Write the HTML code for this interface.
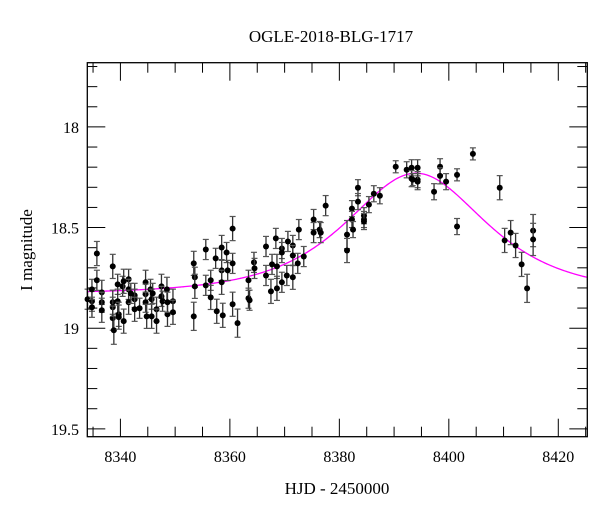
<!DOCTYPE html>
<html><head><meta charset="utf-8"><style>
html,body{margin:0;padding:0;background:#fff;}
svg text{font-family:"Liberation Serif",serif;fill:#000;}
</style></head><body>
<svg id="chart" width="600" height="512" viewBox="0 0 600 512" xmlns="http://www.w3.org/2000/svg">
<text x="331" y="42" font-size="17" text-anchor="middle">OGLE-2018-BLG-1717</text>
<text x="337" y="494" font-size="17" text-anchor="middle">HJD - 2450000</text>
<text x="0" y="0" font-size="17" text-anchor="middle" transform="translate(32,250) rotate(-90)">I magnitude</text>
<g id="ticks"></g>
<g id="curve"></g>
<g id="pts"></g>
<rect x="87.3" y="62.7" width="500" height="374" fill="none" stroke="#000" stroke-width="1.3"/>
</svg>
<script>
const hjd = [8334.0,8334.8,8334.8,8334.8,8335.7,8335.7,8336.6,8336.6,8336.6,8338.6,8338.6,8338.6,8338.6,8338.8,8339.5,8339.5,8339.7,8339.7,8340.4,8340.6,8340.6,8341.5,8341.5,8341.5,8341.9,8342.6,8342.6,8342.6,8343.5,8344.6,8344.6,8344.6,8344.8,8345.5,8345.7,8345.7,8345.9,8346.6,8346.6,8347.5,8347.5,8347.7,8348.5,8348.6,8348.6,8349.6,8349.6,
8353.4,8353.6,8353.6,8353.4,8355.6,8355.6,8356.5,8356.5,8357.4,8357.6,8358.5,8358.5,8358.5,8358.7,8359.4,8359.6,8360.5,8360.5,8360.5,8361.4,8363.4,8363.4,8363.6,8364.4,8364.5,
8366.6,8366.6,8367.5,8367.7,8368.4,8368.6,8368.6,8369.5,8369.5,8369.5,8370.4,8370.6,8371.5,8371.5,8371.5,8372.4,8372.6,8373.5,8375.3,8375.3,8376.4,8376.6,8377.5,
8381.4,8381.4,8382.3,8382.3,8382.5,8383.4,8383.4,8384.5,8384.5,8384.5,8385.4,8386.3,8387.4,8390.3,8392.3,8393.2,8393.2,8393.4,8394.3,8394.3,8394.3,
8397.3,8398.4,8398.4,8399.5,8401.5,8401.5,8404.4,8409.3,8410.2,8411.3,8412.2,8413.3,8414.3,8415.4,8415.4];
const imag = [18.856,18.866,18.807,18.896,18.629,18.762,18.822,18.871,18.911,18.693,18.871,18.896,18.950,19.010,18.782,18.866,18.931,18.945,18.792,18.767,18.965,18.757,18.807,18.871,18.827,18.837,18.856,18.906,18.901,18.772,18.831,18.871,18.941,18.807,18.856,18.941,18.827,18.906,18.965,18.792,18.842,18.866,18.807,18.931,18.871,18.866,18.921,
18.678,18.747,18.792,18.941,18.609,18.787,18.762,18.847,18.653,18.916,18.599,18.713,18.772,18.936,18.624,18.713,18.505,18.678,18.881,18.975,18.762,18.851,18.861,18.673,18.703,
18.594,18.738,18.817,18.683,18.554,18.693,18.802,18.604,18.624,18.772,18.738,18.569,18.589,18.639,18.747,18.678,18.510,18.644,18.460,18.525,18.510,18.525,18.391,
18.535,18.614,18.406,18.460,18.510,18.302,18.371,18.441,18.460,18.470,18.386,18.332,18.342,18.198,18.213,18.203,18.257,18.262,18.203,18.262,18.272,
18.322,18.198,18.243,18.272,18.238,18.495,18.134,18.302,18.564,18.525,18.589,18.683,18.802,18.515,18.559];
const errs = [0.05,0.05,0.05,0.05,0.06,0.05,0.06,0.05,0.06,0.06,0.06,0.05,0.06,0.07,0.05,0.06,0.06,0.06,0.05,0.06,0.06,0.05,0.05,0.06,0.05,0.06,0.05,0.06,0.05,0.06,0.05,0.05,0.06,0.05,0.05,0.06,0.05,0.06,0.06,0.06,0.05,0.05,0.06,0.06,0.05,0.06,0.06,
0.06,0.05,0.06,0.07,0.05,0.05,0.05,0.06,0.05,0.06,0.06,0.05,0.06,0.06,0.05,0.05,0.06,0.05,0.06,0.07,0.05,0.05,0.05,0.05,0.05,
0.05,0.05,0.06,0.05,0.05,0.06,0.06,0.05,0.05,0.05,0.05,0.05,0.05,0.05,0.06,0.05,0.05,0.05,0.05,0.05,0.04,0.05,0.05,
0.07,0.06,0.04,0.04,0.04,0.04,0.04,0.04,0.04,0.04,0.04,0.04,0.04,0.03,0.04,0.04,0.04,0.03,0.04,0.04,0.04,
0.04,0.04,0.04,0.04,0.03,0.04,0.03,0.06,0.06,0.06,0.06,0.06,0.07,0.08,0.08];
const xTickLabels = [8340,8360,8380,8400,8420];
const yTickLabels = [18,18.5,19,19.5];
const modelT0 = 8394.0, modelTE = 14.6, modelU0 = 1.0, modelFs = 2.16, modelBase = 18.83;

const X0=87.3,X1=587.3,Y0=62.7,Y1=436.7;
const xMin=8333.95,xMax=8425.3,yMin=17.681,yMax=19.539;
const xs=t=>X0+(t-xMin)/(xMax-xMin)*(X1-X0);
const ys=m=>Y0+(m-yMin)/(yMax-yMin)*(Y1-Y0);
const NS="http://www.w3.org/2000/svg";
function mk(tag,attrs,parent){const e=document.createElementNS(NS,tag);for(const k in attrs)e.setAttribute(k,attrs[k]);parent.appendChild(e);return e;}

const tg=document.getElementById('ticks');
for(let t=8335;t<=8425;t+=5){
  const major=(t%20===0);const L=major?18:10;const x=xs(t);
  const a=mk('line',{x1:x,x2:x,y1:Y1,y2:Y1-L,stroke:'#000','stroke-width':1},tg);
  
  
  const b=mk('line',{x1:x,x2:x,y1:Y0,y2:Y0+L,stroke:'#000','stroke-width':1},tg);
  
  
}
xTickLabels.forEach(v=>{
  const tx=mk('text',{x:xs(v),y:462,'font-size':16,'text-anchor':'middle'},tg);
  tx.textContent=v;
  
  
});
for(let i=0;i<=18;i++){
  const m=17.7+i*0.1;if(m>yMax)break;
  const major=Math.abs(m*2-Math.round(m*2))<1e-6;const L=major?18:10;const y=ys(m);
  const a=mk('line',{x1:X0,x2:X0+L,y1:y,y2:y,stroke:'#000','stroke-width':1},tg);
  
  
  const b=mk('line',{x1:X1,x2:X1-L,y1:y,y2:y,stroke:'#000','stroke-width':1},tg);
  
  
}
yTickLabels.forEach(v=>{
  const tx=mk('text',{x:79,y:ys(v)+6,'font-size':16,'text-anchor':'end'},tg);
  tx.textContent=String(v);
  
  
});

// model curve
function modelMag(t){
  const tau=(t-modelT0)/modelTE;const u=Math.sqrt(modelU0*modelU0+tau*tau);
  const A=(u*u+2)/(u*Math.sqrt(u*u+4));
  return modelBase-2.5*Math.log10(1+modelFs*(A-1));
}
let d='';
for(let t=xMin;t<=xMax;t+=0.25){d+=(d?'L':'M')+xs(t).toFixed(2)+','+ys(modelMag(t)).toFixed(2);}
const cp=mk('path',{d:d,fill:'none',stroke:'#ff00ff','stroke-width':1.3},document.getElementById('curve'));



// data points
const pg=document.getElementById('pts');
hjd.forEach((t,i)=>{
  const x=xs(t),y=ys(imag[i]),e=errs[i];
  const ya=ys(imag[i]-e),yb=ys(imag[i]+e);
  const g=mk('g',{},pg);
  
  
  mk('line',{x1:x,x2:x,y1:ya,y2:yb,stroke:'#333','stroke-width':1.3},g);
  mk('line',{x1:x-3,x2:x+3,y1:ya,y2:ya,stroke:'#555','stroke-width':1.2},g);
  mk('line',{x1:x-3,x2:x+3,y1:yb,y2:yb,stroke:'#555','stroke-width':1.2},g);
  mk('circle',{cx:x,cy:y,r:3,fill:'#000'},g);
});
</script>
</body></html>
